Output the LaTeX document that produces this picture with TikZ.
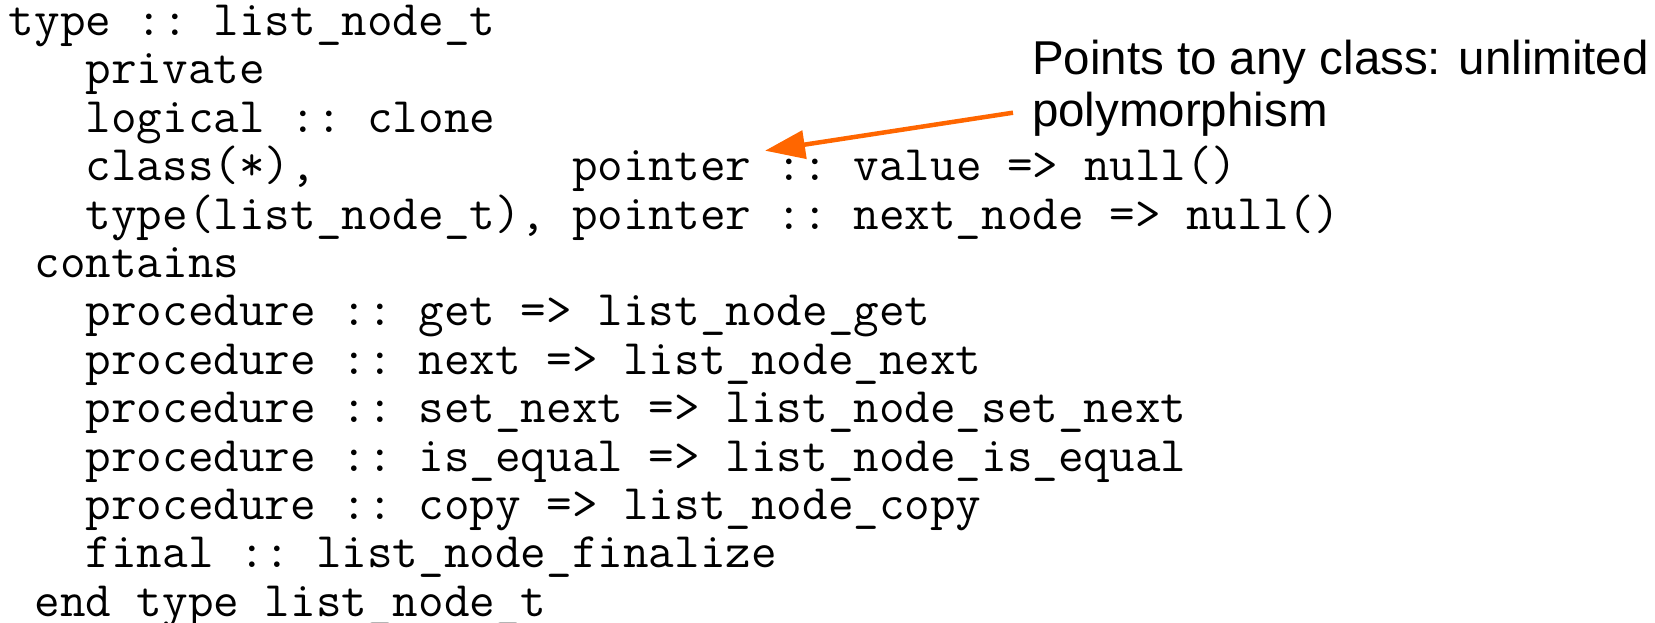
\documentclass[tikz,border=0pt]{standalone}
\usepackage{fontspec}
\setmainfont{Liberation Sans}
\usetikzlibrary{arrows.meta}
\definecolor{arrowc}{HTML}{FF6600}
\begin{document}
\begin{tikzpicture}[x=1pt,y=1pt,
  code/.style={anchor=base west,inner sep=0pt,outer sep=0pt,font=\ttfamily\fontsize{49.7}{48}\selectfont},
  note/.style={anchor=base west,inner sep=0pt,outer sep=0pt,font=\fontsize{47.5}{52}\selectfont,align=left},
  pointerarrow/.style={draw=arrowc,line width=4.5pt,-{Triangle[length=40pt,width=28pt]}}]
\useasboundingbox (0,0) rectangle (1655,-623);
\node[code] (l0) at (9,-35.5) {type~::~list\_node\_t};
\node[code] (l1) at (9,-83.9) {~~~private};
\node[code] (l2) at (9,-132.3) {~~~logical~::~clone};
\node[code] (l3) at (9,-180.7) {~~~class(*),~~~~~~~~~~pointer~::~value~=>~null()};
\node[code] (l4) at (9,-229.1) {~~~type(list\_node\_t),~pointer~::~next\_node~=>~null()};
\node[code] (l5) at (9,-277.5) {~contains};
\node[code] (l6) at (9,-325.9) {~~~procedure~::~get~=>~list\_node\_get};
\node[code] (l7) at (9,-374.3) {~~~procedure~::~next~=>~list\_node\_next};
\node[code] (l8) at (9,-422.7) {~~~procedure~::~set\_next~=>~list\_node\_set\_next};
\node[code] (l9) at (9,-471.1) {~~~procedure~::~is\_equal~=>~list\_node\_is\_equal};
\node[code] (l10) at (9,-519.5) {~~~procedure~::~copy~=>~list\_node\_copy};
\node[code] (l11) at (9,-567.9) {~~~final~::~list\_node\_finalize};
\node[code] (l12) at (9,-616.3) {~end~type~list\_node\_t};
\node[note] (note) at (1032,-127) {Points to any class: unlimited\\polymorphism};
\coordinate (arrowstart) at (1013,-112.7);
\coordinate (arrowtip) at (765,-150.7);
\draw[pointerarrow] (arrowstart) -- (arrowtip);
\end{tikzpicture}
\end{document}
